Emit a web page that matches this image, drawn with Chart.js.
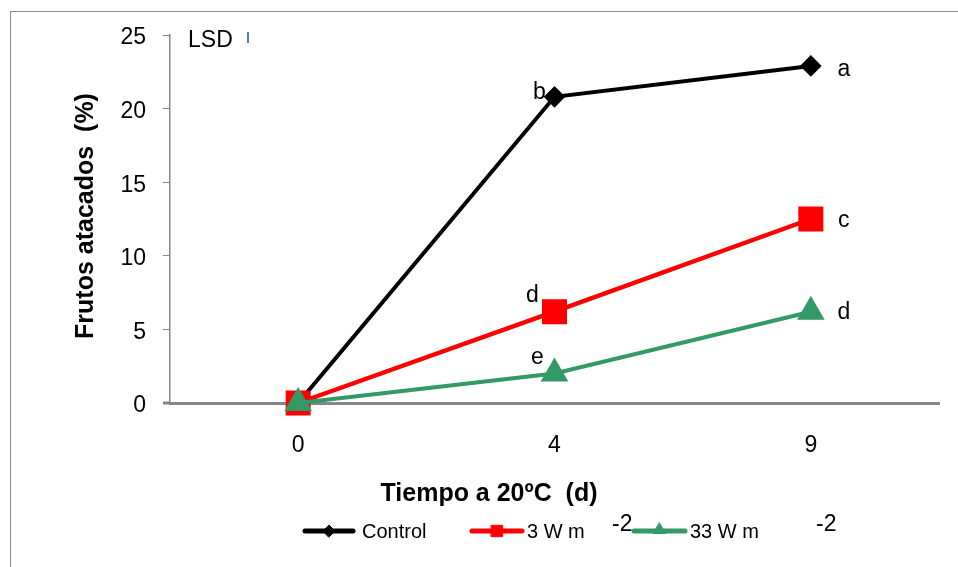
<!DOCTYPE html>
<html>
<head>
<meta charset="utf-8">
<script src="https://cdn.jsdelivr.net/npm/chart.js@4/dist/chart.umd.min.js"></script>
<style>
  html, body { margin: 0; padding: 0; background: #fff; }
  #wrap { width: 958px; height: 567px; position: relative; }
</style>
</head>
<body>
<div id="wrap"><canvas id="c" width="958" height="567"></canvas></div>
<script>
const categories = ['0', '4', '9'];
const seriesNames = ['Control', '3 W m', '33 W m'];
const controlValues = [0, 20.8, 22.9];
const w3Values = [0, 6.2, 12.5];
const w33Values = [0, 2.0, 6.2];
const controlLetters = ['', 'b', 'a'];
const w3Letters = ['', 'd', 'c'];
const w33Letters = ['', 'e', 'd'];
const yTickMin = 0, yTickMax = 25, yTickStep = 5;
const xTitle = 'Tiempo a 20ºC  (d)';
const yTitle = 'Frutos atacados  (%)';
const lsdLabel = 'LSD';
const unitSup = '-2';

const FONT = "'Liberation Sans', Arial, sans-serif";
const BLACK = '#000000', RED = '#FF0000', GREEN = '#339966', AXIS = '#868686';

const overlay = {
  id: 'overlay',
  beforeDraw(chart) {
    const ctx = chart.ctx;
    ctx.save();
    ctx.fillStyle = '#fff';
    ctx.fillRect(0, 0, chart.width, chart.height);
    ctx.strokeStyle = '#8c8c8c';
    ctx.lineWidth = 1;
    ctx.strokeRect(10.5, 11.5, chart.width + 10, chart.height + 10);
    ctx.restore();
  },
  afterDraw(chart) {
    const ctx = chart.ctx;
    const xs = chart.scales.x, ys = chart.scales.y;
    const area = chart.chartArea;
    ctx.save();
    ctx.strokeStyle = AXIS;
    ctx.lineWidth = 3;
    ctx.beginPath();
    ctx.moveTo(area.left - 7, ys.getPixelForValue(0));
    ctx.lineTo(area.left, ys.getPixelForValue(0));
    ctx.stroke();

    // axis titles
    ctx.fillStyle = '#000';
    ctx.font = 'bold 25px ' + FONT;
    ctx.textAlign = 'center';
    ctx.textBaseline = 'middle';
    ctx.fillText(xTitle, 489, 494);
    ctx.save();
    ctx.translate(86, 216);
    ctx.rotate(-Math.PI / 2);
    ctx.fillText(yTitle, 0, 0);
    ctx.restore();

    // LSD
    ctx.font = '23px ' + FONT;
    ctx.textAlign = 'left';
    ctx.fillText(lsdLabel, 188, 41);
    ctx.fillStyle = '#4F81BD';
    ctx.fillRect(247, 32, 2, 11);

    // letters
    ctx.fillStyle = '#000';
    ctx.font = '23px ' + FONT;
    ctx.textAlign = 'center';
    const letterSets = [
      [controlValues, controlLetters, [[0,0],[-15,-4],[33,4]]],
      [w3Values, w3Letters, [[0,0],[-22,-16],[33,2]]],
      [w33Values, w33Letters, [[0,0],[-17,-16],[33,1]]]
    ];
    letterSets.forEach(([vals, letters, offs]) => {
      letters.forEach((l, i) => {
        if (!l) return;
        const px = xs.getPixelForValue(i);
        const py = ys.getPixelForValue(vals[i]);
        ctx.fillText(l, px + offs[i][0], py + offs[i][1]);
      });
    });

    // legend
    const ly = 531;
    const items = [
      { x0: 305, x1: 353, color: BLACK, style: 'rectRot', r: 6, tx: 362, name: seriesNames[0], sup: null },
      { x0: 472, x1: 522, color: RED, style: 'rect', r: 8, tx: 527, name: seriesNames[1], sup: 612 },
      { x0: 634, x1: 685, color: GREEN, style: 'triangle', r: 7, tx: 690, name: seriesNames[2], sup: 816 }
    ];
    items.forEach(it => {
      ctx.strokeStyle = it.color;
      ctx.lineWidth = 5;
      ctx.lineCap = 'round';
      ctx.beginPath();
      ctx.moveTo(it.x0, ly);
      ctx.lineTo(it.x1, ly);
      ctx.stroke();
      ctx.fillStyle = it.color;
      ctx.lineWidth = 1;
      Chart.helpers.drawPoint(ctx, { pointStyle: it.style, radius: it.r, borderWidth: 1, rotation: 0 }, (it.x0 + it.x1) / 2, ly - (it.style === 'triangle' ? 1 : 0));
      ctx.fillStyle = '#000';
      ctx.font = '20px ' + FONT;
      ctx.textAlign = 'left';
      ctx.textBaseline = 'middle';
      ctx.fillText(it.name, it.tx, ly + 1);
      if (it.sup) {
        ctx.font = '23px ' + FONT;
        ctx.fillText(unitSup, it.sup, ly - 6);
      }
    });
    ctx.restore();
  }
};

new Chart(document.getElementById('c'), {
  type: 'line',
  data: {
    labels: categories,
    datasets: [
      { label: seriesNames[0], data: controlValues, borderColor: BLACK, backgroundColor: BLACK,
        borderWidth: 4, pointStyle: 'rectRot', pointRadius: 8, pointHoverRadius: 8, order: 2, clip: false },
      { label: seriesNames[1], data: w3Values, borderColor: RED, backgroundColor: RED,
        borderWidth: 4.5, pointStyle: 'rect', pointRadius: 14.5, pointHoverRadius: 14.5, order: 1, clip: false },
      { label: seriesNames[2], data: w33Values, borderColor: GREEN, backgroundColor: GREEN,
        borderWidth: 4, pointStyle: 'triangle', pointRadius: 12, pointHoverRadius: 12, order: 0, clip: false }
    ]
  },
  options: {
    responsive: false,
    animation: false,
    events: [],
    layout: { padding: { top: 35, right: 17, left: 0, bottom: 0 } },
    plugins: { legend: { display: false }, tooltip: { enabled: false }, title: { display: false } },
    elements: { line: { tension: 0 }, point: { borderWidth: 1 } },
    scales: {
      x: {
        type: 'category',
        offset: true,
        grid: { display: false, drawTicks: false },
        border: { display: true, color: AXIS, width: 3 },
        ticks: { color: '#000', font: { family: FONT, size: 23 }, padding: 29 },
        afterFit(s) { s.height = 567 - 403; }
      },
      y: {
        min: yTickMin, max: yTickMax,
        grid: { display: true, drawOnChartArea: false, drawTicks: true, tickLength: 7, color: AXIS, lineWidth: 1 },
        border: { display: true, color: AXIS, width: 1.5 },
        ticks: { stepSize: yTickStep, color: '#000', font: { family: FONT, size: 23 }, padding: 17, labelOffset: 3 },
        afterFit(s) { s.width = 170; }
      }
    }
  },
  plugins: [overlay]
});
</script>
</body>
</html>
